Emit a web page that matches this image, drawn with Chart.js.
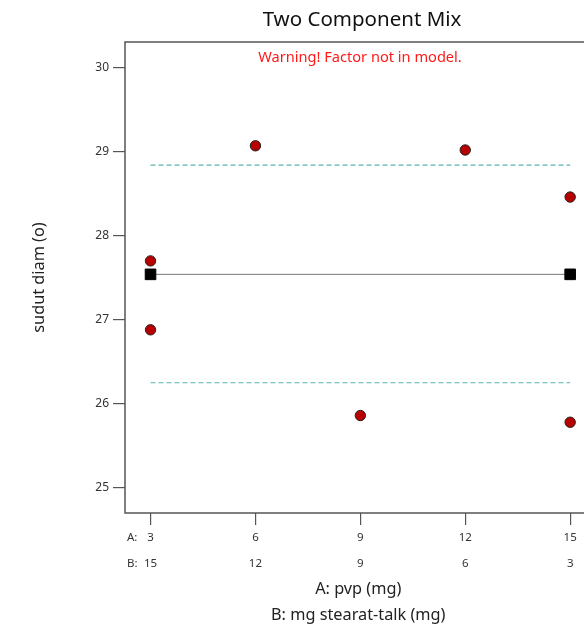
<!DOCTYPE html>
<html>
<head>
<meta charset="utf-8">
<script src="https://cdn.jsdelivr.net/npm/chart.js@4"></script>
<style>
  html, body { margin: 0; padding: 0; background: #fff; overflow: hidden; }
  #wrap { width: 600px; height: 628px; position: relative; }
</style>
</head>
<body>
<div id="wrap"><canvas id="mix-graph"></canvas></div>
<script>
const aValues = [3, 3, 6, 9, 12, 15, 15]
const observed = [27.70, 26.88, 29.07, 25.86, 29.02, 28.46, 25.78]
const meanEnds = [3, 15]
const meanValue = 27.54
const upperBand = 28.84
const lowerBand = 26.25
const aTicks = [3, 6, 9, 12, 15]
const bTicks = [15, 12, 9, 6, 3]
const yTicks = [25, 26, 27, 28, 29, 30]

const font = "'Noto Sans', 'Open Sans', sans-serif";

// frame, title, warning and the A:/B: row prefixes
const framePlugin = {
    id: 'frame',
    afterDraw(chart) {
        const {ctx, chartArea} = chart;
        ctx.save();
        ctx.strokeStyle = '#555';
        ctx.lineWidth = 1.5;
        ctx.strokeRect(chartArea.left, chartArea.top, chartArea.right - chartArea.left, chartArea.bottom - chartArea.top);
        ctx.textAlign = 'center';
        ctx.textBaseline = 'middle';
        ctx.fillStyle = '#111';
        ctx.font = "20.5px " + font;
        ctx.fillText('Two Component Mix', 362, 20);
        ctx.fillStyle = '#ff1a1a';
        ctx.font = "14.6px " + font;
        ctx.fillText('Warning! Factor not in model.', 360, chartArea.top + 16);
        ctx.fillStyle = '#333';
        ctx.font = "11.5px " + font;
        ctx.textAlign = 'left';
        ctx.fillText('A:', 127, 538);
        ctx.fillText('B:', 127, 564);
        ctx.restore();
    }
};

const data = {
    datasets: [
        {
            label: 'observed',
            data: aValues.map((a, i) => ({x: a, y: observed[i]})),
            showLine: false,
            pointRadius: 5.2,
            pointBackgroundColor: '#b80000',
            pointBorderColor: '#222',
            pointBorderWidth: 1,
            order: 0
        },
        {
            label: 'mean',
            data: meanEnds.map(a => ({x: a, y: meanValue})),
            showLine: true,
            borderColor: '#777',
            borderWidth: 1,
            pointStyle: 'rect',
            pointRadius: 7.5,
            pointBackgroundColor: '#000',
            pointBorderColor: '#000',
            order: 1
        },
        {
            label: 'upper',
            data: meanEnds.map(a => ({x: a, y: upperBand})),
            showLine: true,
            borderColor: '#5ab4b0',
            borderWidth: 1.2,
            borderDash: [5, 3],
            pointRadius: 0,
            order: 2
        },
        {
            label: 'lower',
            data: meanEnds.map(a => ({x: a, y: lowerBand})),
            showLine: true,
            borderColor: '#5ab4b0',
            borderWidth: 1.2,
            borderDash: [5, 3],
            pointRadius: 0,
            order: 2
        }
    ]
};

new Chart(document.getElementById('mix-graph'), {
    type: 'scatter',
    data: data,
    options: {
        responsive: true,
        maintainAspectRatio: false,
        animation: false,
        layout: {padding: {left: 0, right: 2, top: 42, bottom: 0}},
        plugins: {
            legend: {display: false},
            tooltip: {enabled: false},
            title: {display: false}
        },
        scales: {
            x: {
                type: 'linear',
                min: 2.27,
                max: 15.61,
                afterBuildTicks: scale => { scale.ticks = aTicks.map(v => ({value: v})); },
                afterFit: scale => { scale.height = 115; },
                border: {display: false},
                grid: {drawOnChartArea: false, tickLength: 12, color: '#555', lineWidth: 1.2},
                ticks: {
                    color: '#333',
                    font: {family: font, size: 11.5, lineHeight: 2.26},
                    padding: 0,
                    maxRotation: 0,
                    callback: (v, i) => [String(aTicks[i]), String(bTicks[i])]
                },
                title: {
                    display: true,
                    text: ['A: pvp (mg)', 'B: mg stearat-talk (mg)'],
                    color: '#222',
                    font: {family: font, size: 16.3, lineHeight: 1.57},
                    padding: {top: 0, bottom: 0}
                }
            },
            y: {
                min: 24.70,
                max: 30.305,
                afterBuildTicks: scale => { scale.ticks = yTicks.map(v => ({value: v})); },
                afterFit: scale => { scale.width = 125; },
                border: {display: false},
                grid: {drawOnChartArea: false, tickLength: 12, color: '#555', lineWidth: 1.2},
                ticks: {
                    color: '#333',
                    font: {family: font, size: 12},
                    padding: 4
                },
                title: {
                    display: true,
                    text: 'sudut diam (o)',
                    color: '#222',
                    font: {family: font, size: 16.3},
                    padding: {top: 30, bottom: 0}
                }
            }
        }
    },
    plugins: [framePlugin]
});
</script>
</body>
</html>
